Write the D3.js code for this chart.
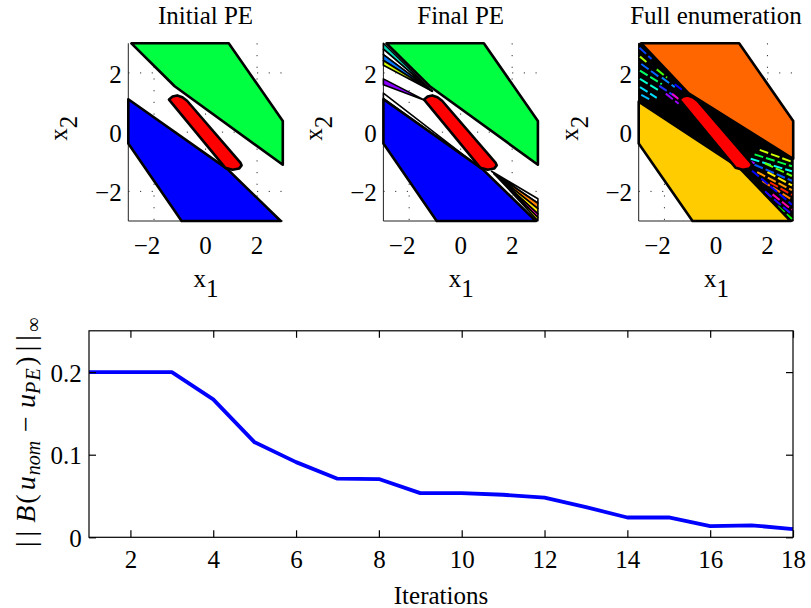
<!DOCTYPE html>
<html>
<head>
<meta charset="utf-8">
<script src="https://cdn.jsdelivr.net/npm/d3@7"></script>
<style>
  html, body { margin: 0; padding: 0; background: #fff; }
  svg text { font-family: "Liberation Serif", "Times New Roman", serif; fill: #000; }
</style>
</head>
<body>
<svg id="chart" width="811" height="608"></svg>
<script>
// ---------- data ----------
const panelTitles = ["Initial PE", "Final PE", "Full enumeration"];
const stateTicks = [-2, 0, 2];

// partition regions in the (x1, x2) state plane
const upperRegion = [[-2.88, 3], [0.9, 3], [3, 0.38], [3, -1.1], [-1.2, 1.55]];
const lowerRegion = [[-3, 1.11], [0.85, -1.25], [2.92, -3], [-0.93, -3], [-3, -0.38]];
const nominalRegion = [[-1.42, 1.1], [-1.28, 1.2], [-1.1, 1.24], [-0.9, 1.18], [-0.72, 1.06],
                       [1.36, -1.04], [1.4, -1.12], [1.3, -1.23], [1.05, -1.27], [0.76, -1.2]];

// regions added by the final PE iteration
const finalUpperFan = [
  { edge: [3.0, 2.8], apex: [-1.1, 1.38], fill: "#00d6b4" },
  { edge: [2.8, 2.62], apex: [-1.1, 1.38], fill: "#ffffff" },
  { edge: [2.62, 2.42], apex: [-1.1, 1.38], fill: "#0078ff" },
  { edge: [2.42, 2.26], apex: [-1.1, 1.38], fill: "#d4ff00" },
  { edge: [1.8, 1.6], apex: [-1.4, 1.08], fill: "#8a00ff" },
  { edge: [1.32, 1.14], apex: [0.82, -1.25], fill: "#ffffff" }
];
const finalLowerFan = [
  { edge: [-2.25, -2.4], apex: [1.2, -1.32], fill: "#ffffff" },
  { edge: [-2.4, -2.58], apex: [1.3, -1.4], fill: "#ff8000" },
  { edge: [-2.58, -2.76], apex: [1.3, -1.4], fill: "#ffe600" },
  { edge: [-2.76, -2.88], apex: [1.3, -1.4], fill: "#ff00dd" },
  { edge: [-2.88, -2.99], apex: [1.3, -1.4], fill: "#ffe600" }
];

// full enumeration regions
const fullUpper = [[-2.9, 3], [0.9, 3], [3, 0.38], [3, -0.9], [-1.06, 1.31]];
const fullLower = [[-3, 1.03], [0.93, -1.22], [2.9, -3], [-0.91, -3], [-3, -0.38]];
const fullBand = [[-3, 3], [-2.9, 3], [-1.06, 1.31], [3, -0.9], [3, -3], [2.9, -3], [0.93, -1.22], [-3, 1.03]];
const fullUpperSlivers = [
  [-2.97, 2.85, -2.5, 2.47, "#0044ff"],
  [-2.95, 2.55, -2.7, 2.37, "#aaff00"],
  [-2.9, 2.3, -2.2, 1.86, "#0066ff"],
  [-2.95, 2.08, -2.1, 1.62, "#00ff66"],
  [-2.3, 2.12, -1.9, 1.84, "#44ff00"],
  [-2.95, 1.8, -2.2, 1.4, "#00ffcc"],
  [-2.1, 1.84, -1.6, 1.52, "#0088ff"],
  [-2.95, 1.52, -2.3, 1.16, "#00ddff"],
  [-2.2, 1.56, -1.4, 1.1, "#2233ff"],
  [-1.95, 1.3, -1.45, 0.96, "#9900ff"],
  [-1.7, 1.3, -1.4, 1.08, "#ff00cc"],
  [-2.9, 1.26, -2.5, 1.07, "#00bbff"],
  [-1.6, 1.62, -1.3, 1.42, "#0000ff"]
];
const fullLowerSlivers = [
  [1.7, -0.6, 2.95, -1.0, "#ccff00"],
  [1.5, -0.75, 2.95, -1.15, "#00ff44"],
  [1.35, -0.9, 2.95, -1.32, "#00ffee"],
  [1.9, -1.05, 2.95, -1.48, "#66ff00"],
  [1.5, -1.1, 2.95, -1.64, "#0055ff"],
  [2.0, -1.35, 2.95, -1.8, "#ffee00"],
  [1.6, -1.35, 2.95, -1.96, "#ff9900"],
  [2.1, -1.7, 2.95, -2.12, "#ff2200"],
  [1.8, -1.65, 2.95, -2.28, "#ff7700"],
  [1.4, -1.3, 2.95, -2.45, "#0000ff"],
  [2.2, -2.1, 2.95, -2.62, "#ff00aa"],
  [1.9, -2.0, 2.95, -2.78, "#2200ff"],
  [2.4, -2.5, 2.95, -2.93, "#00ff00"],
  [1.2, -0.95, 1.5, -1.05, "#9900ff"]
];

// convergence of the PE iterations
const iterations = [1, 2, 3, 4, 5, 6, 7, 8, 9, 10, 11, 12, 13, 14, 15, 16, 17, 18];
const maxDeviation = [0.2, 0.2, 0.2, 0.167, 0.115, 0.091, 0.071, 0.0705, 0.0535, 0.0535,
                      0.0515, 0.048, 0.0365, 0.024, 0.024, 0.0135, 0.0145, 0.010];
const iterTicks = [2, 4, 6, 8, 10, 12, 14, 16, 18];
const devTicks = [0, 0.1, 0.2];

// ---------- drawing ----------
const svg = d3.select("#chart");
const FS = 25;
const minusFmt = v => (v < 0 ? "\u2212" + Math.abs(v) : String(v));

const panelLeft = [128.3, 383.4, 638.7];
const panelW = 154.5, panelTop = 43.3, panelBottom = 221;

function polygon(g, pts, sx, sy, fill, sw) {
  g.append("path")
    .attr("d", d3.line().x(p => sx(p[0])).y(p => sy(p[1]))(pts) + "Z")
    .attr("fill", fill)
    .attr("stroke", "#000")
    .attr("stroke-width", sw)
    .attr("stroke-linejoin", "round");
}

panelTitles.forEach((title, i) => {
  const L = panelLeft[i];
  const sx = d3.scaleLinear().domain([-3, 3]).range([L, L + panelW]);
  const sy = d3.scaleLinear().domain([-3, 3]).range([panelBottom, panelTop]);
  const g = svg.append("g");

  // dotted grid
  g.selectAll(".gx").data(stateTicks).join("line")
    .attr("x1", d => sx(d)).attr("x2", d => sx(d))
    .attr("y1", panelTop).attr("y2", panelBottom)
    .attr("stroke", "#333").attr("stroke-width", 1).attr("stroke-dasharray", "1.2,10.5");
  g.selectAll(".gy").data(stateTicks).join("line")
    .attr("y1", d => sy(d)).attr("y2", d => sy(d))
    .attr("x1", L).attr("x2", L + panelW)
    .attr("stroke", "#333").attr("stroke-width", 1).attr("stroke-dasharray", "1.2,10.5");

  // axis lines
  g.append("line").attr("x1", L).attr("x2", L).attr("y1", panelTop).attr("y2", panelBottom)
    .attr("stroke", "#222").attr("stroke-width", 1);
  g.append("line").attr("x1", L).attr("x2", L + panelW).attr("y1", panelBottom).attr("y2", panelBottom)
    .attr("stroke", "#222").attr("stroke-width", 1);

  if (i === 0) {
    polygon(g, upperRegion, sx, sy, "#00ff40", 2.6);
    polygon(g, lowerRegion, sx, sy, "#0000ff", 2.6);
  } else if (i === 1) {
    finalUpperFan.forEach(w => polygon(g, [[-3, w.edge[0]], [-3, w.edge[1]], w.apex], sx, sy, w.fill, 1.6));
    finalLowerFan.forEach(w => polygon(g, [[3, w.edge[0]], [3, w.edge[1]], w.apex], sx, sy, w.fill, 1.6));
    polygon(g, upperRegion, sx, sy, "#00ff40", 2.6);
    polygon(g, lowerRegion, sx, sy, "#0000ff", 2.6);
  } else {
    polygon(g, fullBand, sx, sy, "#000", 1);
    fullUpperSlivers.concat(fullLowerSlivers).forEach(s => {
      g.append("line")
        .attr("x1", sx(s[0])).attr("y1", sy(s[1]))
        .attr("x2", sx(s[2])).attr("y2", sy(s[3]))
        .attr("stroke", s[4]).attr("stroke-width", 2)
        .attr("stroke-dasharray", "9,3");
    });
    polygon(g, fullUpper, sx, sy, "#ff6600", 2.6);
    polygon(g, fullLower, sx, sy, "#ffcc00", 2.6);
  }
  polygon(g, nominalRegion, sx, sy, "#ff0000", 2.6);

  // title
  g.append("text").attr("x", sx(0)).attr("y", 24).attr("text-anchor", "middle")
    .attr("font-size", FS).text(title);

  // tick labels
  g.selectAll(".xt").data(stateTicks).join("text")
    .attr("x", d => sx(d)).attr("y", 254).attr("text-anchor", "middle")
    .attr("dx", d => (d < 0 ? -7 : 0))
    .attr("font-size", FS).text(minusFmt);
  g.selectAll(".yt").data(stateTicks).join("text")
    .attr("x", L - 6.6).attr("y", d => sy(d) + 10).attr("text-anchor", "end")
    .attr("font-size", FS).text(minusFmt);

  // axis labels x1 / x2
  const xl = g.append("text").attr("x", sx(0) + 0.5).attr("y", 287).attr("text-anchor", "middle").attr("font-size", FS);
  xl.append("tspan").text("x");
  xl.append("tspan").attr("dy", 10).text("1");
  const yl = g.append("text").attr("transform", `translate(${L - 61},${(panelTop + panelBottom) / 2 - 4}) rotate(-90)`)
    .attr("text-anchor", "middle").attr("font-size", FS);
  yl.append("tspan").text("x");
  yl.append("tspan").attr("dy", 10).text("2");
});

// ---------- convergence plot ----------
const bx = d3.scaleLinear().domain([1, 18]).range([89, 793]);
const by = d3.scaleLinear().domain([0, 0.25]).range([537.3, 330.8]);
const gb = svg.append("g");

gb.append("path")
  .datum(iterations.map((it, k) => [it, maxDeviation[k]]))
  .attr("d", d3.line().x(d => bx(d[0])).y(d => by(d[1])))
  .attr("fill", "none").attr("stroke", "#0000ff").attr("stroke-width", 3.8)
  .attr("stroke-linejoin", "round");

function styleAxis(sel) {
  sel.select(".domain").remove();
  sel.selectAll(".tick line").attr("stroke", "#000").attr("stroke-width", 1.2);
  sel.selectAll(".tick text").attr("font-size", FS).attr("font-family", "Liberation Serif").attr("fill", "#000");
}

gb.append("g").attr("transform", `translate(0,${by(0)})`)
  .call(d3.axisBottom(bx).tickValues(iterTicks).tickSizeInner(-7).tickSizeOuter(0).tickPadding(12).tickFormat(d3.format("d")))
  .call(styleAxis)
  .call(s => s.selectAll(".tick text").attr("dy", null).attr("y", 31));
gb.append("g").attr("transform", `translate(0,${by(0.25)})`)
  .call(d3.axisTop(bx).tickValues(iterTicks).tickSizeInner(-7).tickSizeOuter(0).tickFormat(""))
  .call(styleAxis);
gb.append("g").attr("transform", `translate(${bx(1)},0)`)
  .call(d3.axisLeft(by).tickValues(devTicks).tickSizeInner(-7).tickSizeOuter(0)
    .tickFormat(d => (d === 0 ? "0" : d3.format(".1f")(d))))
  .call(styleAxis)
  .call(s => s.selectAll(".tick text").attr("dy", null).attr("y", 9).attr("x", -7.3));
gb.append("g").attr("transform", `translate(${bx(18)},0)`)
  .call(d3.axisRight(by).tickValues(devTicks).tickSizeInner(-7).tickSizeOuter(0).tickFormat(""))
  .call(styleAxis);

// frame
gb.append("rect").attr("x", bx(1)).attr("y", by(0.25))
  .attr("width", bx(18) - bx(1)).attr("height", by(0) - by(0.25))
  .attr("fill", "none").attr("stroke", "#000").attr("stroke-width", 1.2);

// axis labels
gb.append("text").attr("x", (bx(1) + bx(18)) / 2).attr("y", 604).attr("text-anchor", "middle")
  .attr("font-size", FS).text("Iterations");

// ||B(u_nom - u_PE)||_inf, set in math style along the left edge
const ylab = gb.append("text")
  .attr("transform", `translate(35,550) rotate(-90)`)
  .attr("text-anchor", "start").attr("font-size", 28);
const piece = (txt, opt) => {
  const t = ylab.append("tspan").text(txt);
  if (opt.dx) t.attr("dx", opt.dx);
  if (opt.dy) t.attr("dy", opt.dy);
  if (opt.it) t.attr("font-style", "italic");
  if (opt.fs) t.attr("font-size", opt.fs);
  if (opt.ls) t.attr("letter-spacing", opt.ls);
  return t;
};
piece("|", { dx: 3 });
piece("|", { dx: 5 });
piece("B", { dx: 8, it: true });
piece("(", { dx: 2 });
piece("u", { dx: 4, it: true });
piece("nom", { dx: 1, dy: 5, it: true, fs: 20 });
piece("\u2212", { dx: 9, dy: -5 });
piece("u", { dx: 8, it: true });
piece("PE", { dy: 5, it: true, fs: 20, ls: 1.5 });
piece(")", { dx: 1, dy: -5 });
piece("|", { dx: 5 });
piece("|", { dx: 5 });
piece("\u221E", { dx: 3, dy: 5, fs: 20 });
</script>
</body>
</html>
